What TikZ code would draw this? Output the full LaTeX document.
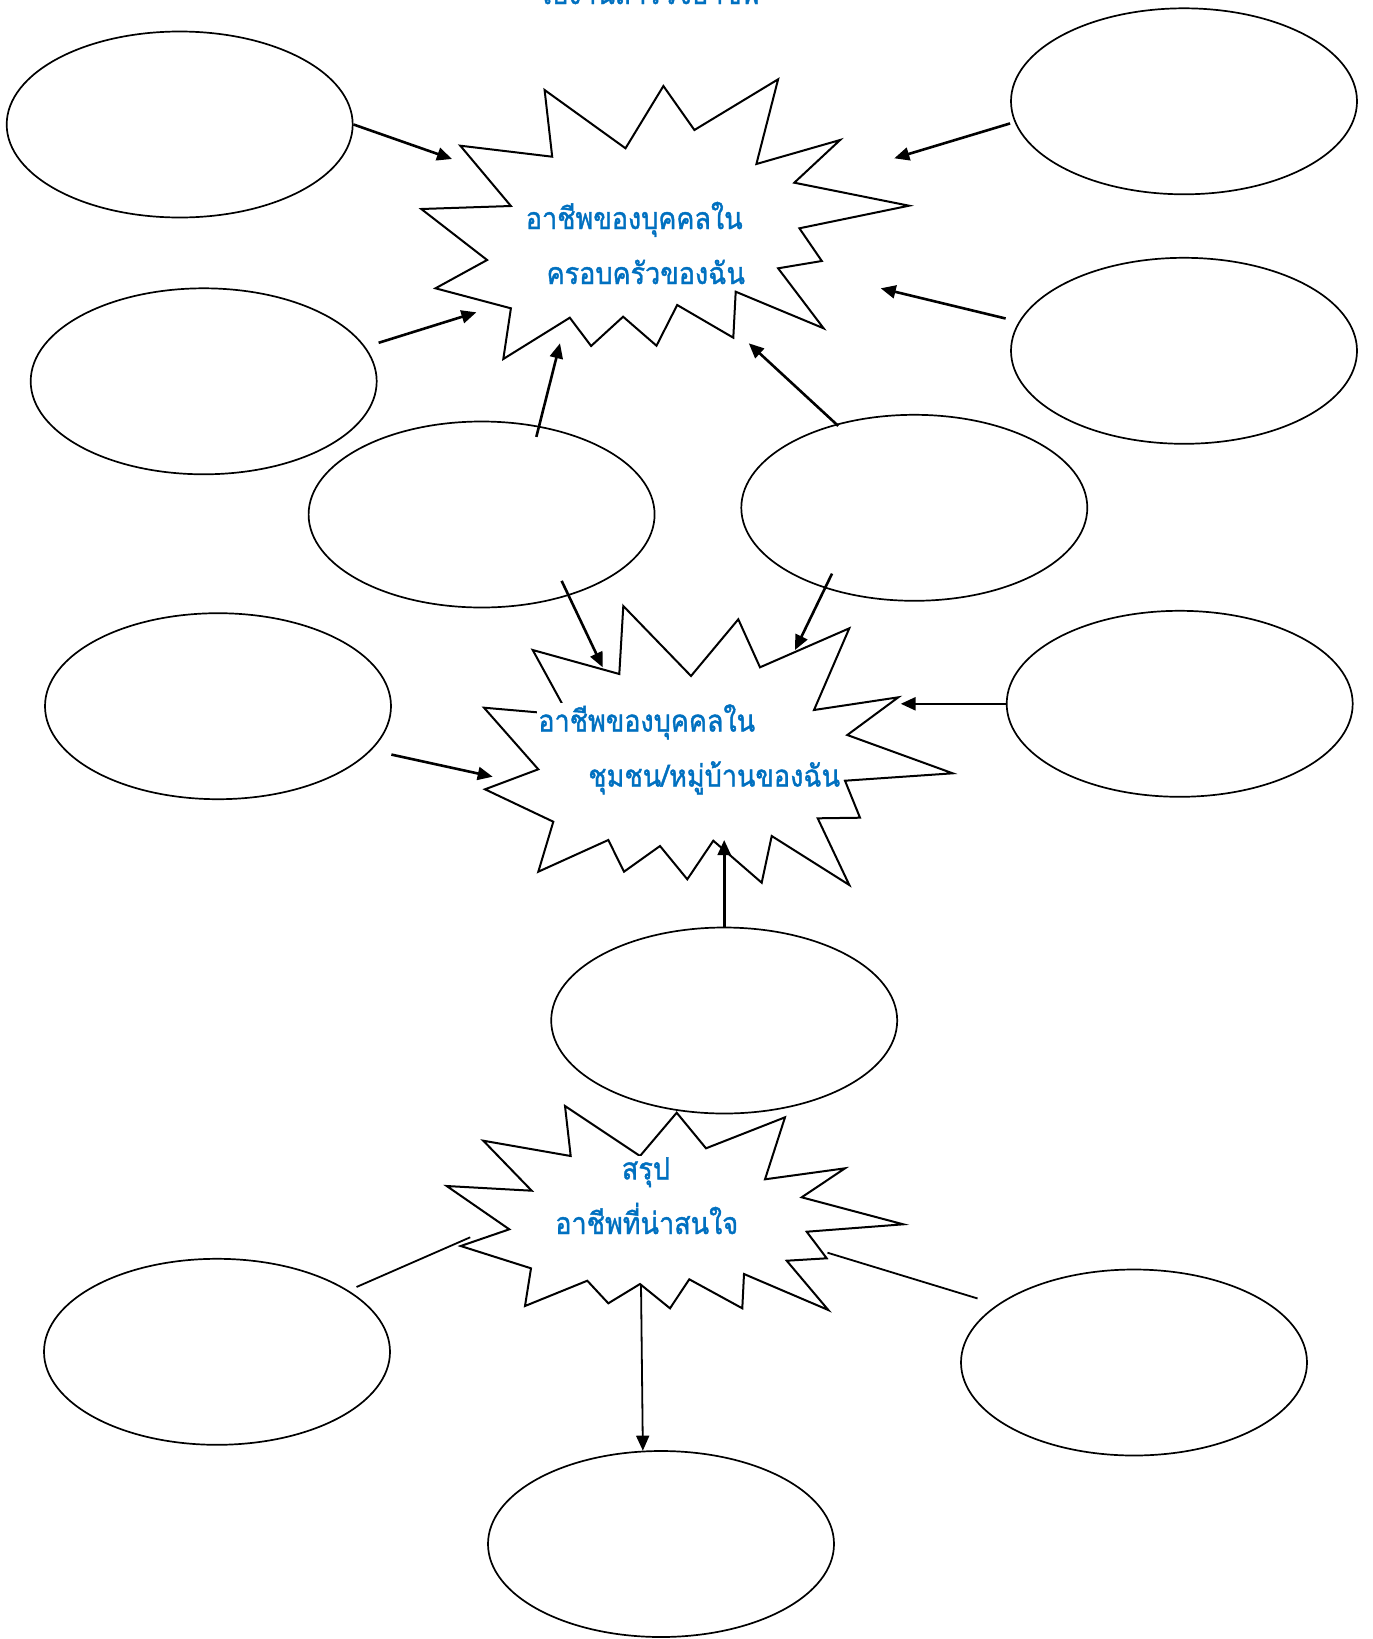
\documentclass[tikz,border=0pt]{standalone}
\usepackage{fontspec}
\newfontfamily\thaifont[Script=Thai,FakeBold=1.4]{Loma}
\usetikzlibrary{shapes.geometric,arrows.meta}
\definecolor{jobblue}{RGB}{0,112,192}
\tikzset {>={Triangle[length=15pt,width=13pt]}}

\begin{document}
\begin{tikzpicture}[x=1pt,y=-1pt,
  blank/.style={ellipse,draw,line width=1.7pt,minimum width=346pt,
    minimum height=186pt,inner sep=0pt},
  burst/.style={draw,line width=2pt,line join=miter},
  link/.style={line width=2.6pt,->},
  spoke/.style={line width=1.8pt},
  jobtext/.style={font=\thaifont\fontsize{27}{30}\selectfont,text=jobblue,
    fill=white,inner sep=1pt,anchor=base,yscale=1.12}]
\path[fill=white,use as bounding box] (0,0) rectangle (1373,1639);

% Heading, cut off by the top edge
\node[jobtext,fill=none] (heading) at (648.7,4) {ใบงานสำรวจอาชีพ};

% Empty ovals
\node[blank] (oval1)  at (179.7,124.5) {};
\node[blank] (oval2)  at (1184,101.3)  {};
\node[blank] (oval3)  at (203.7,381.3) {};
\node[blank] (oval4)  at (1184,350.8)  {};
\node[blank] (oval5)  at (481.6,514.5) {};
\node[blank] (oval6)  at (914.3,507.8) {};
\node[blank] (oval7)  at (218,706.2)   {};
\node[blank] (oval8)  at (1179.7,703.8) {};
\node[blank] (oval9)  at (724.2,1020.5) {};
\node[blank] (oval10) at (217,1351.8)  {};
\node[blank] (oval11) at (1134,1362.5) {};
\node[blank] (oval12) at (661,1544)    {};

% Burst for the family
\draw[burst] (544.6,90) -- (625.5,148.3) -- (663.4,86) -- (694.4,130)
  -- (778.1,79.3) -- (756.4,164) -- (840.1,140) -- (794.3,182.7)
  -- (909,205.7) -- (799.4,228.3) -- (821.8,261) -- (778.1,268.3)
  -- (823.6,328.3) -- (735.7,291.7) -- (733.3,337.7) -- (677.2,305)
  -- (656.5,345.7) -- (623.1,316.7) -- (591.1,346) -- (569.8,317.7)
  -- (503.3,359) -- (510.9,308.3) -- (435.5,288.3) -- (487.1,260)
  -- (421.3,209) -- (510.9,206) -- (460.3,145.7) -- (552.2,156.7) -- cycle;
\node[jobtext] (family1) at (634.2,229) {อาชีพของบุคคลใน};
\node[jobtext] (family2) at (645.8,284) {ครอบครัวของฉัน};

% Burst for the village
\draw[burst] (623.3,606) -- (691,676) -- (738.3,619.3) -- (760,667.3)
  -- (849.3,628.3) -- (814,710) -- (898.3,697.3) -- (847.3,735)
  -- (952.7,773.3) -- (845,780.7) -- (860,817.7) -- (817.7,818.3)
  -- (849.3,885) -- (771.7,836) -- (761.7,882.7) -- (713.3,840.7)
  -- (687.3,879.3) -- (660,846) -- (624,871.7) -- (608.3,840)
  -- (538.3,871.7) -- (553.3,821.7) -- (485,789.3) -- (538.3,769.3)
  -- (484,707.7) -- (568.3,715) -- (532.7,650) -- (619.3,674) -- cycle;
\node[jobtext] (village1) at (646.7,731.5) {อาชีพของบุคคลใน};
\node[jobtext] (village2) at (714.2,786.5) {ชุมชน/หมู่บ้านของฉัน};

% Burst for the summary
\draw[burst] (565,1106) -- (640,1156) -- (676.7,1112.7) -- (706,1148.3)
  -- (785,1117.3) -- (765,1179.3) -- (845,1168.3) -- (801.7,1197.3)
  -- (903.3,1224.3) -- (806.7,1231.7) -- (826.7,1258.3) -- (786.7,1260.7)
  -- (828.3,1310) -- (744,1274) -- (742.3,1308.3) -- (689.3,1279.3)
  -- (670,1308.3) -- (640,1284) -- (608.3,1303.3) -- (587.3,1280.7)
  -- (525,1306) -- (531,1268.3) -- (460.7,1246) -- (509.3,1229.3)
  -- (446.7,1186) -- (531.7,1190.7) -- (483.3,1140.7) -- (570.7,1156) -- cycle;
\node[jobtext] (summary1) at (646,1179.3) {สรุป};
\node[jobtext] (summary2) at (646.7,1234) {อาชีพที่น่าสนใจ};

% Arrow tips
\coordinate (tip1)  at (452,159);
\coordinate (tip2)  at (894.3,158.3);
\coordinate (tip3)  at (476.4,312.3);
\coordinate (tip4)  at (880.7,288.3);
\coordinate (tip5)  at (560,343.3);
\coordinate (tip6)  at (748.8,343.3);
\coordinate (tip7)  at (602.7,667.3);
\coordinate (tip8)  at (795,650);
\coordinate (tip9)  at (492.7,776.7);
\coordinate (tip10) at (900.7,703.8);
\coordinate (tip11) at (724.2,840);
\coordinate (end12) at (470.2,1237.3);
\coordinate (end13) at (827.5,1252.7);
\coordinate (root)  at (641,1284);

% Arrows into the bursts
\draw[link] (oval1.east) -- (tip1);
\draw[link,shorten <=4.6pt] (oval2.187) -- (tip2);
\draw[link,shorten <=13.8pt] (oval3.12.6) -- (tip3);
\draw[link,shorten <=13.5pt] (oval4.170) -- (tip4);
\draw[link,shorten <=-11.3pt] (oval5.57.75) -- (tip5);
\draw[link,shorten <=-2.8pt] (oval6.133.2) -- (tip6);
\draw[link,shorten <=-16.5pt] (oval5.317.2) -- (tip7);
\draw[link,shorten <=-16.3pt] (oval6.222.3) -- (tip8);
\draw[link,shorten <=20.3pt] (oval7.344.6) -- (tip9);
\draw[link] (oval8.west) -- (tip10);
\draw[link] (oval9.north) -- (tip11);

% Summary spokes
\draw[spoke,shorten <=8.7pt] (oval10.25.5) -- (end12);
\draw[spoke,shorten <=20.7pt] (oval11.157.8) -- (end13);
\draw[spoke,->] (root) -- (oval12.101.9);
\end{tikzpicture}
\end{document}
